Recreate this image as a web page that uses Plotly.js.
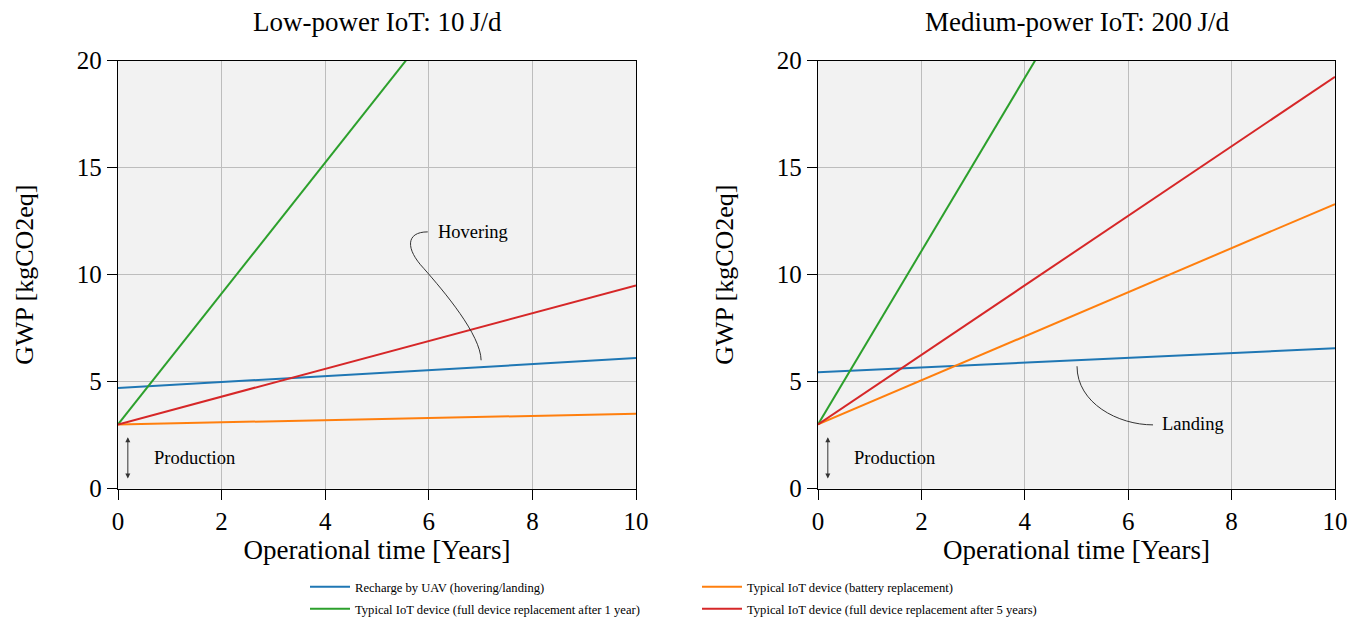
<!DOCTYPE html>
<html>
<head>
<meta charset="utf-8">
<script src="https://cdn.plot.ly/plotly-3.0.1.min.js"></script>
<style>html,body{margin:0;padding:0;background:#fff;}#chart{width:1363px;height:624px;}</style>
</head>
<body>
<div id="chart"></div>
<script>
// ---- data ----
const years = [0, 10];
const seriesNames = [
  "Recharge by UAV (hovering/landing)",
  "Typical IoT device (battery replacement)",
  "Typical IoT device (full device replacement after 1 year)",
  "Typical IoT device (full device replacement after 5 years)"
];
const colors = ["#1f77b4", "#ff7f0e", "#2ca02c", "#d62728"];
// Low-power IoT: 10 J/d
const lowUAV = [4.7, 6.1];
const lowBattery = [3.0, 3.5];
const lowReplace1 = [3.0, 33.6];
const lowReplace5 = [3.0, 9.5];
// Medium-power IoT: 200 J/d
const medUAV = [5.44, 6.56];
const medBattery = [3.0, 13.3];
const medReplace1 = [3.0, 43.5];
const medReplace5 = [3.0, 19.25];
const xTicks = [0, 2, 4, 6, 8, 10];
const yTicks = [0, 5, 10, 15, 20];
const titles = ["Low-power IoT: 10\u2009J/d", "Medium-power IoT: 200\u2009J/d"];

const serif = "Liberation Serif, Times New Roman, serif";
const W = 1363, H = 624;
const legendOf = ["legend", "legend2", "legend3", "legend4"];

const traces = [];
const lowSets = [lowUAV, lowBattery, lowReplace1, lowReplace5];
const medSets = [medUAV, medBattery, medReplace1, medReplace5];
lowSets.forEach((ys, i) => traces.push({
  x: years, y: ys, type: "scatter", mode: "lines", name: seriesNames[i],
  line: {color: colors[i], width: 2}, xaxis: "x", yaxis: "y",
  legend: legendOf[i], showlegend: true
}));
medSets.forEach((ys, i) => traces.push({
  x: years, y: ys, type: "scatter", mode: "lines", name: seriesNames[i],
  line: {color: colors[i], width: 2}, xaxis: "x2", yaxis: "y2",
  showlegend: false
}));

function xax(dom, anchor) {
  return {
    domain: dom, anchor: anchor, range: [0, 10], tickvals: xTicks,
    showgrid: true, gridcolor: "#bdbdbd", gridwidth: 1,
    showline: true, linecolor: "#000", linewidth: 1.2, mirror: true,
    ticks: "outside", ticklen: 10, tickcolor: "#000", tickwidth: 1,
    tickfont: {family: serif, size: 25, color: "#000"}, zeroline: false,
    title: {text: "Operational time [Years]", font: {family: serif, size: 27, color: "#000"}, standoff: 4}
  };
}
function yax(dom, anchor) {
  return {
    domain: dom, anchor: anchor, range: [0, 20], tickvals: yTicks,
    showgrid: true, gridcolor: "#bdbdbd", gridwidth: 1,
    showline: true, linecolor: "#000", linewidth: 1.2, mirror: true,
    ticks: "outside", ticklen: 10, tickcolor: "#000", tickwidth: 1,
    tickfont: {family: serif, size: 25, color: "#000"}, zeroline: false,
    title: {text: "GWP [kgCO2eq]", font: {family: serif, size: 26, color: "#000"}, standoff: 35}
  };
}
const yDom = [(H - 491) / H, (H - 61) / H];

const annFont = {family: serif, size: 18.5, color: "#000"};
const titleFont = {family: serif, size: 27, color: "#000"};
const annotations = [
  {xref: "paper", yref: "paper", x: 377 / W, y: (H - 22) / H, text: titles[0], showarrow: false,
   font: titleFont, xanchor: "center", yanchor: "middle"},
  {xref: "paper", yref: "paper", x: 1077 / W, y: (H - 22) / H, text: titles[1], showarrow: false,
   font: titleFont, xanchor: "center", yanchor: "middle"},
  {xref: "x", yref: "y", x: 6.13, y: 12.0, text: "Hovering", showarrow: false, font: annFont, xanchor: "left"},
  {xref: "x2", yref: "y2", x: 6.61, y: 3.0, text: "Landing", showarrow: false, font: annFont, xanchor: "left"},
  {xref: "x", yref: "y", x: 0.65, y: 1.44, text: "Production", showarrow: false, font: annFont, xanchor: "left"},
  {xref: "x2", yref: "y2", x: 0.65, y: 1.44, text: "Production", showarrow: false, font: annFont, xanchor: "left"},
  {xref: "x", yref: "y", x: 0.19, y: 0.47, axref: "x", ayref: "y", ax: 0.19, ay: 2.47,
   showarrow: true, arrowhead: 2, arrowside: "end+start", arrowsize: 1, arrowwidth: 1, arrowcolor: "#333", text: ""},
  {xref: "x2", yref: "y2", x: 0.19, y: 0.47, axref: "x2", ayref: "y2", ax: 0.19, ay: 2.47,
   showarrow: true, arrowhead: 2, arrowside: "end+start", arrowsize: 1, arrowwidth: 1, arrowcolor: "#333", text: ""}
];

const shapes = [
  {type: "path", xref: "x", yref: "y", path: "M 5.98 12.0 C 5.55 12.0, 5.55 11.2, 5.9 10.3 C 6.3 9.2, 7.0 7.2, 7.01 6.0",
   line: {color: "#333", width: 1}},
  {type: "path", xref: "x2", yref: "y2", path: "M 5.01 5.72 C 5.01 4.0, 5.8 2.98, 6.48 2.98",
   line: {color: "#333", width: 1}}
];

const legendBase = {
  orientation: "h", xref: "paper", yref: "paper", xanchor: "left", yanchor: "middle",
  font: {family: serif, size: 12.6, color: "#000"},
  bgcolor: "rgba(0,0,0,0)", borderwidth: 0, tracegroupgap: 0, itemwidth: 40
};
const col1 = 305 / W, col2 = 697 / W, row1 = (H - 590) / H, row2 = (H - 612) / H;

const layout = {
  width: W, height: H,
  margin: {l: 0, r: 0, t: 0, b: 0},
  paper_bgcolor: "#fff", plot_bgcolor: "#f2f2f2",
  xaxis: xax([118 / W, 636 / W], "y"),
  yaxis: yax(yDom, "x"),
  xaxis2: xax([818 / W, 1335 / W], "y2"),
  yaxis2: yax(yDom, "x2"),
  legend: Object.assign({}, legendBase, {x: col1, y: row1}),
  legend2: Object.assign({}, legendBase, {x: col2, y: row1}),
  legend3: Object.assign({}, legendBase, {x: col1, y: row2}),
  legend4: Object.assign({}, legendBase, {x: col2, y: row2}),
  annotations: annotations, shapes: shapes, showlegend: true
};

Plotly.newPlot("chart", traces, layout, {displayModeBar: false, staticPlot: true});
</script>
</body>
</html>
